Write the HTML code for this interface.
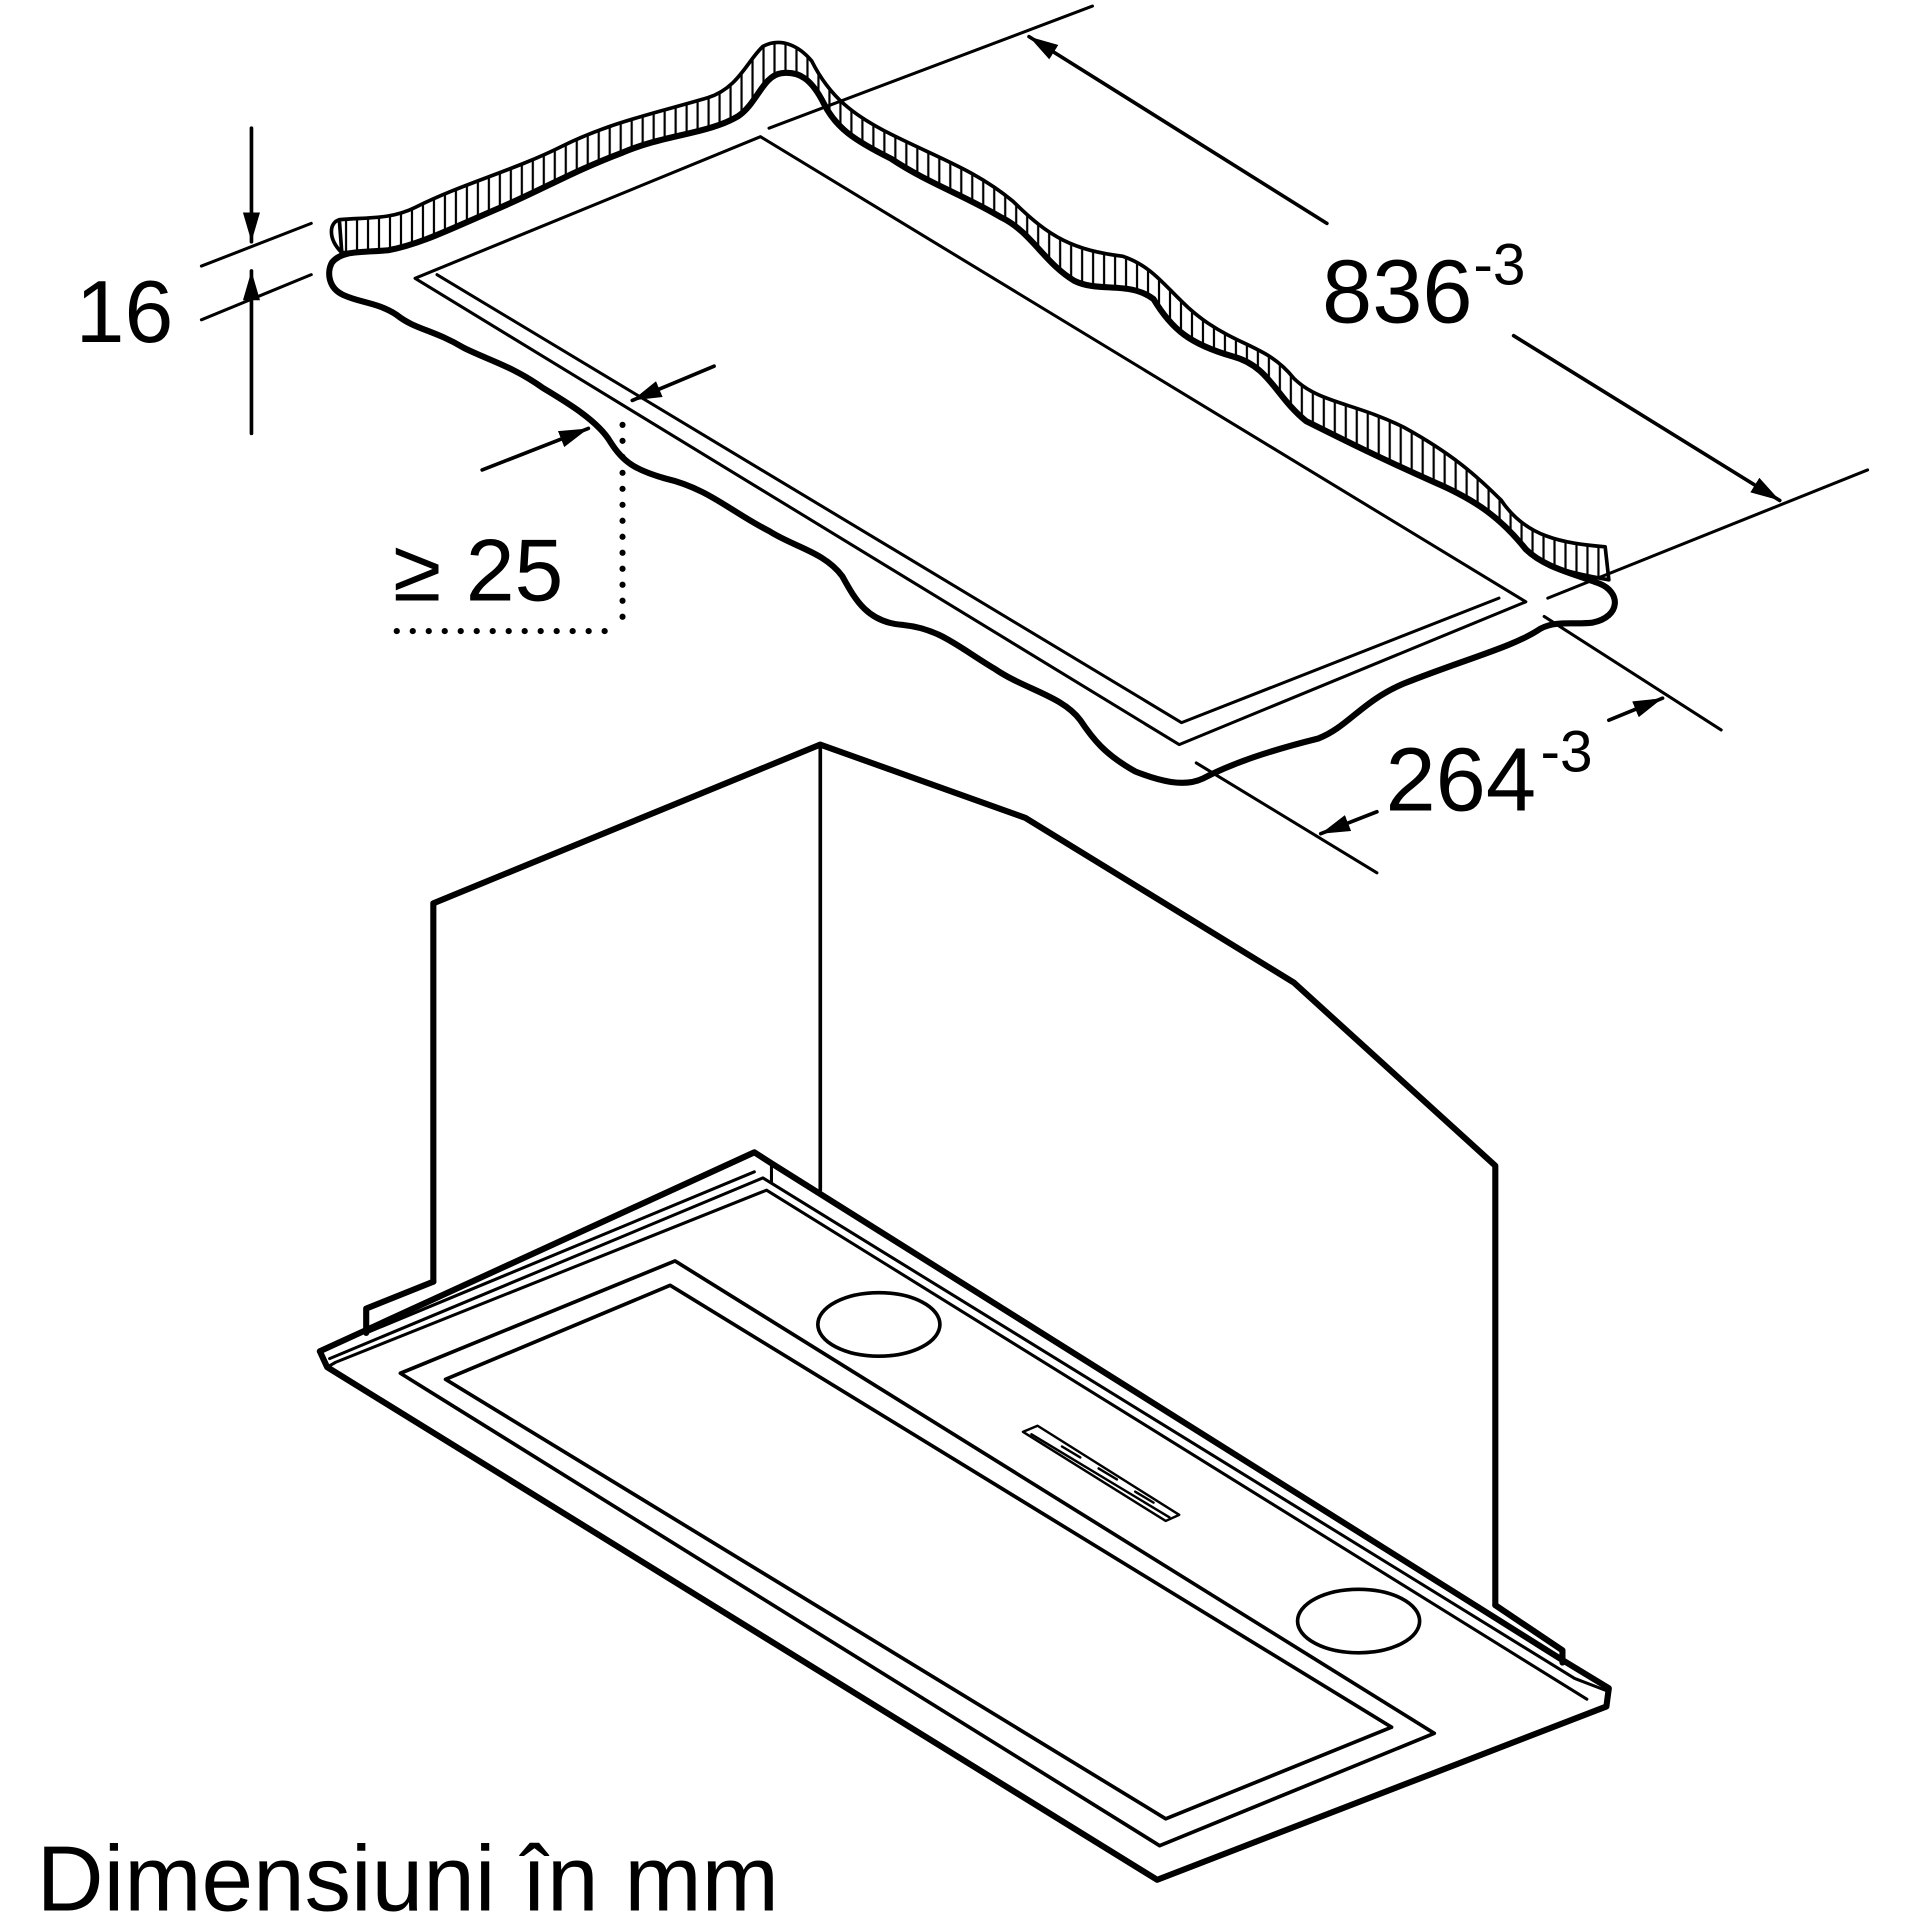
<!DOCTYPE html>
<html><head><meta charset="utf-8"><style>
html,body{margin:0;padding:0;background:#fff;}
svg{display:block;}
text{font-family:"Liberation Sans",Arial,sans-serif;fill:#000;}
</style></head><body>
<svg width="1914" height="1914" viewBox="0 0 1568 1568" xmlns="http://www.w3.org/2000/svg">
<defs>
<pattern id="hatch" width="9" height="20" patternUnits="userSpaceOnUse">
<rect width="9" height="20" fill="#fff"/>
<line x1="4.5" y1="0" x2="4.5" y2="20" stroke="#000" stroke-width="1.8"/>
</pattern>
<marker id="ah" viewBox="0 0 24 14" refX="24" refY="7" markerWidth="24" markerHeight="14" markerUnits="userSpaceOnUse" orient="auto">
<path d="M0,0 L24,7 L0,14 z" fill="#000"/>
</marker>
</defs>
<g fill="none" stroke="#000" stroke-linejoin="round" stroke-linecap="round">
<path fill="url(#hatch)" stroke-width="3" d="M278,180 C300,178 320,180 340,170 C380,150 420,140 460,120 C500,100 540,92 580,80 C605,72 612,50 625,38 C640,30 655,38 665,50 C680,80 700,95 730,110 C770,130 800,140 830,165 C860,195 880,205 920,210 C950,220 960,245 990,265 C1020,285 1040,285 1060,310 C1080,330 1110,330 1150,350 C1190,372 1210,390 1230,410 C1250,440 1280,445 1315,448 L1318,475 C1290,470 1265,465 1250,450 C1230,425 1210,410 1175,395 C1130,375 1100,360 1070,345 C1045,325 1040,300 1010,292 C975,282 960,270 945,245 C925,230 900,240 880,230 C855,215 845,190 820,178 C790,160 760,150 730,130 C700,115 685,105 675,85 C665,65 655,58 640,60 C625,62 620,85 605,95 C580,110 545,110 510,125 C470,140 445,155 410,170 C370,187 345,200 318,205 L280,207 Z"/>
<path stroke-width="5" d="M318,205 C345,200 370,187 410,170 C445,155 470,140 510,125 C545,110 580,110 605,95 C620,85 625,62 640,60 C655,58 665,65 675,85 C685,105 700,115 730,130 C760,150 790,160 820,178 C845,190 855,215 880,230 C900,240 925,230 945,245 C960,270 975,282 1010,292 C1040,300 1045,325 1070,345 C1100,360 1130,375 1175,395 C1210,410 1230,425 1250,450 C1265,465 1290,470 1310,478 C1328,485 1328,505 1305,510 C1290,512 1275,508 1262,515 C1240,530 1200,540 1150,560 C1115,575 1105,595 1080,605 C1040,615 1010,625 985,638 C970,645 950,640 930,632 C905,618 895,605 885,590 C870,570 840,565 815,548 C785,530 770,515 740,512 C710,510 700,490 690,472 C675,452 650,448 630,435 C600,420 580,400 545,392 C520,385 510,378 500,362 C490,345 465,330 445,318 C420,300 400,295 380,285 C355,270 340,270 325,258 C310,248 295,248 282,242 C268,236 268,222 272,215 C280,205 295,207 318,205 Z"/>
<path stroke-width="3" d="M278,180 C270,182 268,195 280,207"/>
<path stroke-width="2.5" d="M340,228 L623,112 L1250,493 L966,610 Z"/>
<path stroke-width="2.5" d="M358,225 L968,592 L1228,490"/>
<line x1="165" y1="218" x2="255" y2="183" stroke-width="2.5"/>
<line x1="165" y1="262" x2="255" y2="225" stroke-width="2.5"/>
<line x1="206" y1="105" x2="206" y2="198" stroke-width="3" marker-end="url(#ah)"/>
<line x1="206" y1="355" x2="206" y2="222" stroke-width="3" marker-end="url(#ah)"/>
<line x1="630" y1="105" x2="895" y2="5" stroke-width="2.5"/>
<line x1="1268" y1="490" x2="1530" y2="385" stroke-width="2.5"/>
<line x1="1087" y1="183" x2="843" y2="30" stroke-width="3" marker-end="url(#ah)"/>
<line x1="1240" y1="275" x2="1458" y2="410" stroke-width="3" marker-end="url(#ah)"/>
<line x1="980" y1="625" x2="1128" y2="715" stroke-width="2.5"/>
<line x1="1265" y1="505" x2="1410" y2="598" stroke-width="2.5"/>
<line x1="1128" y1="665" x2="1082" y2="683" stroke-width="3" marker-end="url(#ah)"/>
<line x1="1318" y1="590" x2="1362" y2="572" stroke-width="3" marker-end="url(#ah)"/>
<line x1="585" y1="300" x2="518" y2="328" stroke-width="3" marker-end="url(#ah)"/>
<line x1="395" y1="385" x2="482" y2="351" stroke-width="3" marker-end="url(#ah)"/>
<line x1="510" y1="348" x2="510" y2="517" stroke-width="5" stroke-dasharray="0.1 13"/>
<line x1="325" y1="517" x2="497" y2="517" stroke-width="5" stroke-dasharray="0.1 13"/>
<path stroke-width="5" d="M355,1050 L355,740 L672,610 L840,670 L1060,805 L1225,955 L1225,1315"/>
<line x1="672" y1="612" x2="672" y2="975" stroke-width="3"/>
<path stroke-width="5" d="M355,1050 L300,1072 L300,1092"/>
<path stroke-width="5" d="M1225,1315 L1280,1352 L1280,1362"/>
<path stroke-width="5" d="M262,1107 L618,944 L632,953 L1280,1360 L1318,1383 L1316,1398 L948,1540 L268,1120 Z"/>
<path stroke-width="2.5" d="M300,1092 L618,960"/>
<path stroke-width="2.5" d="M270,1113 L625,965 L1290,1375 L1316,1385"/>
<path stroke-width="2.5" d="M632,953 L632,968"/>
<path stroke-width="2.5" d="M268,1120 L275,1116 L628,975 L1300,1392"/>
<path stroke-width="3" d="M328,1125 L553,1033 L1175,1420 L950,1512 Z"/>
<path stroke-width="3" d="M365,1130 L549,1053 L1140,1415 L955,1490 Z"/>
<ellipse cx="720" cy="1085" rx="50" ry="26" stroke-width="3"/>
<ellipse cx="1113" cy="1328" rx="50" ry="26" stroke-width="3"/>
<path stroke-width="2" d="M838,1173 L850,1168 L966,1241 L955,1246 Z"/>
<path stroke-width="2" d="M845,1175 L958,1243 M870,1185 L885,1194 M900,1203 L915,1212 M930,1222 L945,1231"/>
</g>
<text x="62" y="280" font-size="72">16</text>
<text x="1083" y="264" font-size="74">836</text>
<text x="1207" y="233" font-size="48">-3</text>
<text x="1135" y="664" font-size="74">264</text>
<text x="1262" y="632" font-size="48">-3</text>
<text x="322" y="492" font-size="72">≥ 25</text>
<text x="30" y="1565" font-size="76">Dimensiuni în mm</text>
</svg>
</body></html>
